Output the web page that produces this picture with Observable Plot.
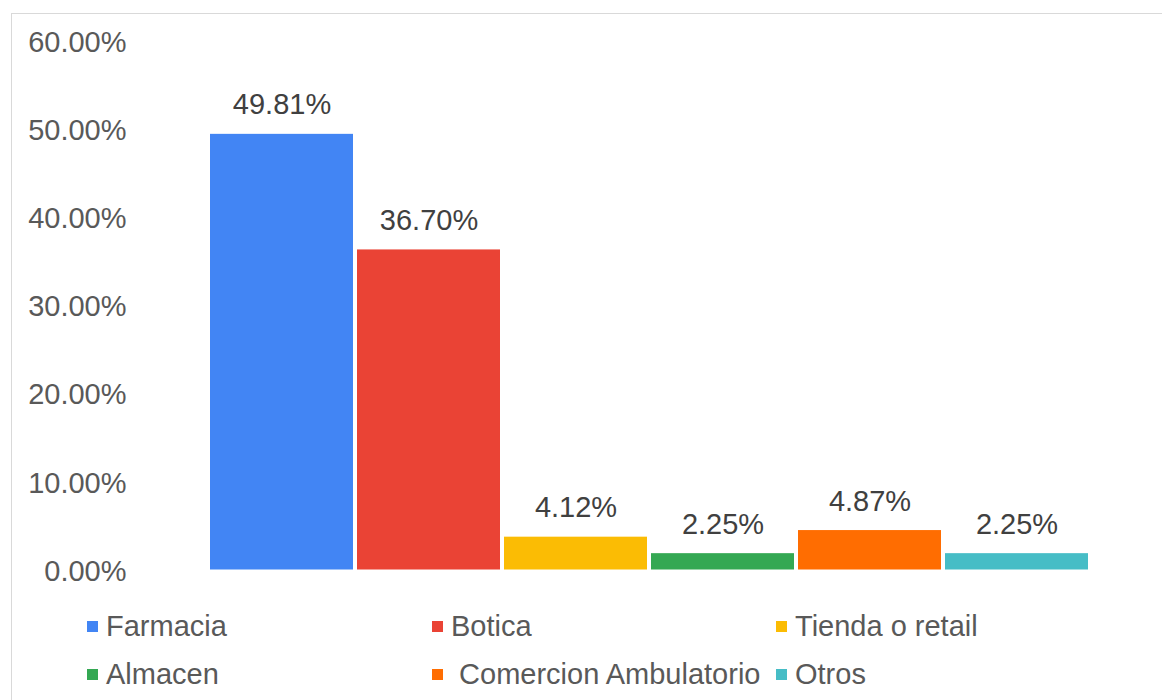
<!DOCTYPE html>
<html><head><meta charset="utf-8">
<script src="https://cdn.jsdelivr.net/npm/d3@7"></script>
<script src="https://cdn.jsdelivr.net/npm/@observablehq/plot@0.6"></script>
<style>
body{margin:0;background:#fff;font-family:"Liberation Sans",Arial,sans-serif;}
#wrap{position:relative;width:1162px;height:700px;overflow:hidden;background:#fff;}
#frame{position:absolute;left:11px;top:13px;width:1200px;height:800px;border:1px solid #d9d9d9;box-sizing:border-box;}
#chart{position:absolute;left:0;top:0;}
.item{position:absolute;height:40px;display:flex;align-items:center;font-size:29px;color:#595959;white-space:pre;}
.sw{width:11px;height:11px;margin-right:8px;flex:none;}
</style>
</head><body>
<div id="wrap"><div id="frame"></div><div id="chart"></div></div>
<script>
const categories = ["Farmacia","Botica","Tienda o retail","Almacen","Comercion Ambulatorio","Otros"];
const shares = [0.4981,0.3670,0.0412,0.0225,0.0487,0.0225];
const colors = ["#4285F4","#EA4335","#FBBC04","#34A853","#FF6D01","#46BDC6"];
const legendLabels = ["Farmacia","Botica","Tienda o retail","Almacen"," Comercion Ambulatorio","Otros"];
const yTicks = [0,0.1,0.2,0.3,0.4,0.5,0.6];

const data = categories.map((c,i)=>({cat:c, v:shares[i]}));
const fmt = d3.format(".2%");

const chart = Plot.plot({
  width:1162, height:600,
  marginLeft:208, marginRight:72, marginTop:44, marginBottom:27,
  style:{fontFamily:'"Liberation Sans",Arial,sans-serif', fontSize:"29px", color:"#595959", background:"transparent"},
  x:{domain:categories, paddingInner:4/147, paddingOuter:2/147, axis:null},
  y:{domain:[0,0.6], label:null},
  color:{domain:categories, range:colors},
  marks:[
    Plot.axisY({ticks:yTicks, tickFormat:fmt, tickSize:0, tickPadding:82, label:null, dy:-2, fill:"#595959", fontSize:29}),
    Plot.barY(data,{x:"cat", y:"v", fill:"cat", insetBottom:3.5}),
    Plot.text(data,{x:"cat", y:"v", text:d=>fmt(d.v), lineAnchor:"bottom", dy:-20, fill:"#404040", fontSize:29})
  ]
});
document.getElementById("chart").appendChild(chart);

const colX = [87,432,776];
const rowY = [626,674];
const wrap = document.getElementById("wrap");
legendLabels.forEach((lab,i)=>{
  const d = document.createElement("div");
  d.className="item";
  d.style.left = colX[i%3]+"px";
  d.style.top = (rowY[Math.floor(i/3)]-20)+"px";
  const s = document.createElement("span");
  s.className="sw"; s.style.background = colors[i];
  const t = document.createElement("span");
  t.textContent = lab;
  d.appendChild(s); d.appendChild(t);
  wrap.appendChild(d);
});
</script>
</body></html>
